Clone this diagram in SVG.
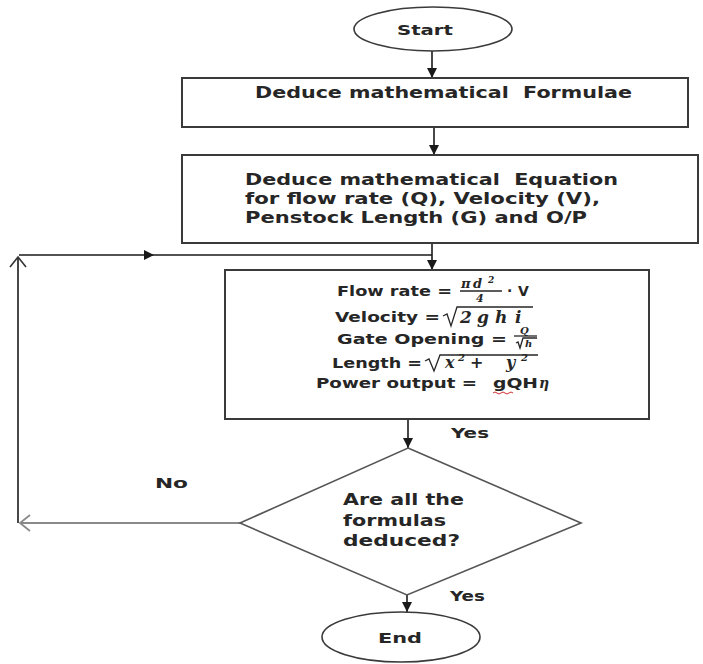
<svg xmlns="http://www.w3.org/2000/svg" width="703" height="664" viewBox="0 0 703 664">
<defs>
<style>
.t{font-family:"DejaVu Sans","Liberation Sans",sans-serif;font-weight:bold;fill:#262626;}
.m{font-family:"DejaVu Serif","Liberation Serif",serif;font-style:italic;font-weight:bold;fill:#262626;}
.box{fill:#fff;stroke:#3a3a3a;stroke-width:2;}
.c{fill:none;stroke:#1a1a1a;stroke-width:1.6;}
.g{fill:none;stroke:#8a8a8a;stroke-width:2;}
.s{fill:none;stroke:#262626;stroke-width:1.3;}
</style>
<marker id="ah" markerUnits="userSpaceOnUse" markerWidth="12" markerHeight="12" refX="10" refY="5" orient="auto">
<path d="M0,0 L10,5 L0,10 z" fill="#1a1a1a"/>
</marker>
<marker id="oh" markerUnits="userSpaceOnUse" markerWidth="16" markerHeight="20" refX="11" refY="9" orient="auto">
<path d="M1,1 L11,9 L1,17" fill="none" stroke="#333" stroke-width="1.6"/>
</marker>
<marker id="ohg" markerUnits="userSpaceOnUse" markerWidth="16" markerHeight="20" refX="11" refY="9" orient="auto">
<path d="M1,1 L11,9 L1,17" fill="none" stroke="#8a8a8a" stroke-width="1.8"/>
</marker>
</defs>
<rect width="703" height="664" fill="#fff"/>

<g id="connectors">
<path class="c" d="M432,51 V78" marker-end="url(#ah)"/>
<path class="c" d="M434,127 V155" marker-end="url(#ah)"/>
<path class="c" d="M432,243 V270" marker-end="url(#ah)"/>
<path class="c" d="M19,255 H154 H432" marker-mid="url(#ah)"/>
<path class="c" d="M18,523 V257" marker-end="url(#oh)"/>
<path class="g" d="M240,523 H20" marker-end="url(#ohg)"/>
<path class="c" d="M408,419 V448" marker-end="url(#ah)"/>
<path class="c" d="M407,595 V612" marker-end="url(#ah)"/>
</g>

<g id="start">
<ellipse cx="433" cy="29" rx="79" ry="22" fill="#fff" stroke="#3a3a3a" stroke-width="1.6"/>
<text class="t" x="397" y="35" font-size="14" textLength="56" lengthAdjust="spacingAndGlyphs">Start</text>
</g>

<g id="box1">
<rect class="box" x="182" y="78" width="506" height="49"/>
<text class="t" x="255" y="98" font-size="15" textLength="377" lengthAdjust="spacingAndGlyphs" xml:space="preserve">Deduce mathematical  Formulae</text>
</g>

<g id="box2">
<rect class="box" x="182" y="155" width="516" height="88"/>
<text class="t" x="245" y="185" font-size="15" textLength="373" lengthAdjust="spacingAndGlyphs" xml:space="preserve">Deduce mathematical  Equation</text>
<text class="t" x="245" y="204" font-size="15" textLength="355" lengthAdjust="spacingAndGlyphs">for flow rate (Q), Velocity (V),</text>
<text class="t" x="245" y="223" font-size="15" textLength="342" lengthAdjust="spacingAndGlyphs">Penstock Length (G) and O/P</text>
</g>

<g id="box3">
<rect class="box" x="225" y="270" width="424" height="149"/>
<!-- Flow rate -->
<text class="t" x="337" y="296" font-size="14" textLength="115" lengthAdjust="spacingAndGlyphs">Flow rate =</text>
<text class="m" x="461" y="288" font-size="13">π</text>
<text class="m" x="473" y="288" font-size="13">d</text>
<text class="m" x="488" y="283" font-size="9">2</text>
<line class="s" x1="460" y1="291" x2="502" y2="291"/>
<text class="m" x="476" y="302" font-size="11">4</text>
<text class="t" x="507" y="296" font-size="14">·</text>
<text class="t" x="518" y="296" font-size="14">V</text>
<!-- Velocity -->
<text class="t" x="335" y="322" font-size="14" textLength="105" lengthAdjust="spacingAndGlyphs">Velocity =</text>
<path class="s" d="M443,316 L447,314 L451,326 L457,307 H533" stroke-width="1.5"/>
<text class="m" x="460" y="323" font-size="17">2</text>
<text class="m" x="477" y="323" font-size="17">g</text>
<text class="m" x="495" y="323" font-size="17">h</text>
<text class="m" x="515" y="323" font-size="17">i</text>
<!-- Gate Opening -->
<text class="t" x="337" y="344" font-size="14" textLength="170" lengthAdjust="spacingAndGlyphs">Gate Opening =</text>
<text class="m" x="520" y="334" font-size="10">Q</text>
<line class="s" x1="514" y1="336" x2="537" y2="336"/>
<path class="s" d="M516,343 L518,342 L520,348 L523,338 H537" stroke-width="1"/>
<text class="m" x="525" y="347" font-size="10">h</text>
<!-- Length -->
<text class="t" x="332" y="368" font-size="14" textLength="90" lengthAdjust="spacingAndGlyphs">Length =</text>
<path class="s" d="M425,361 L429,359 L434,371 L440,355 H538" stroke-width="1.5"/>
<text class="m" x="445" y="368" font-size="16">x</text>
<text class="m" x="458" y="361" font-size="10">2</text>
<text class="t" x="470" y="368" font-size="16" font-weight="normal">+</text>
<text class="m" x="506" y="368" font-size="16">y</text>
<text class="m" x="521" y="361" font-size="10">2</text>
<!-- Power output -->
<text class="t" x="316" y="388" font-size="14" textLength="161" lengthAdjust="spacingAndGlyphs">Power output =</text>
<text class="t" x="493" y="388" font-size="14" textLength="45" lengthAdjust="spacingAndGlyphs">gQH</text>
<text class="m" x="539" y="388" font-size="14" font-weight="normal">η</text>
<path d="M493,393 q2,-2 4,0 t4,0 t4,0 t4,0 t4,0" fill="none" stroke="#d03030" stroke-width="1"/>
</g>

<g id="decision">
<polygon points="408,448 581,523 407,595 240,523" fill="#fff" stroke="#555" stroke-width="1.6"/>
<text class="t" x="343" y="505" font-size="15" textLength="121" lengthAdjust="spacingAndGlyphs">Are all the</text>
<text class="t" x="343" y="526" font-size="15" textLength="103" lengthAdjust="spacingAndGlyphs">formulas</text>
<text class="t" x="343" y="546" font-size="15" textLength="117" lengthAdjust="spacingAndGlyphs">deduced?</text>
</g>

<g id="end">
<ellipse cx="401" cy="637" rx="79" ry="25" fill="#fff" stroke="#3a3a3a" stroke-width="1.6"/>
<text class="t" x="378" y="643" font-size="14" textLength="44" lengthAdjust="spacingAndGlyphs">End</text>
</g>

<g id="labels">
<text class="t" x="451" y="438" font-size="14" textLength="38" lengthAdjust="spacingAndGlyphs">Yes</text>
<text class="t" x="155" y="488" font-size="14" textLength="33" lengthAdjust="spacingAndGlyphs">No</text>
<text class="t" x="450" y="601" font-size="14" textLength="35" lengthAdjust="spacingAndGlyphs">Yes</text>
</g>
</svg>
